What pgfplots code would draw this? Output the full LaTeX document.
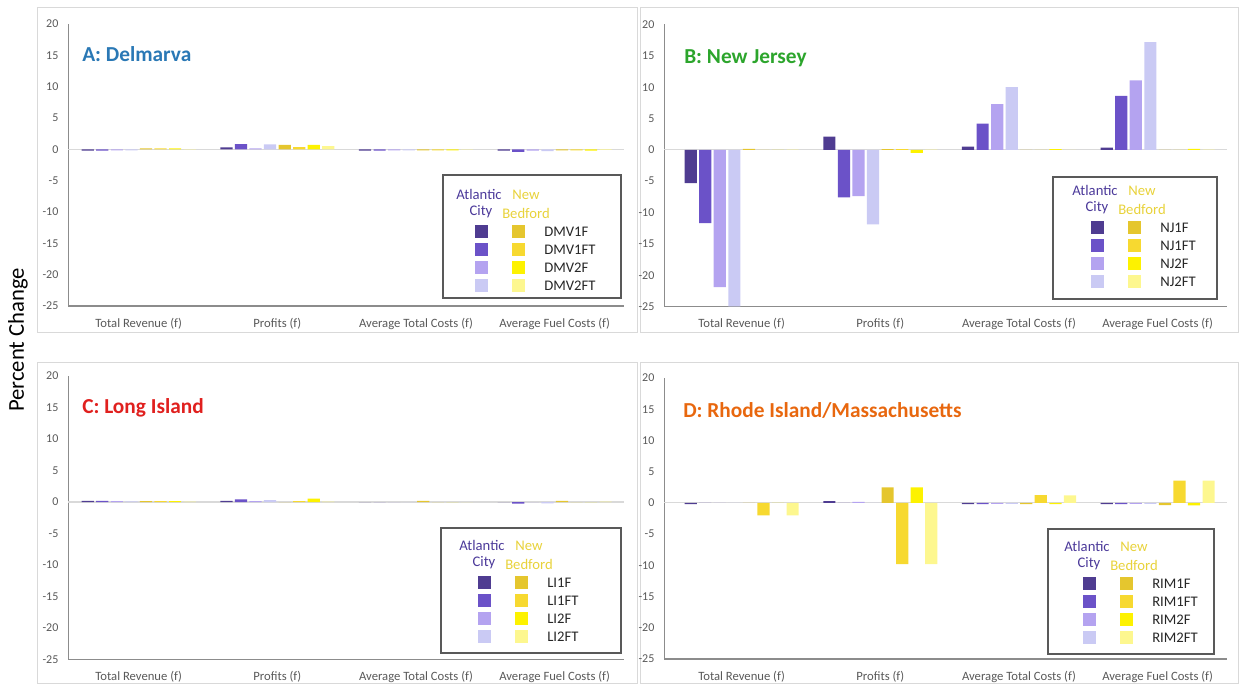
\documentclass[border=0pt]{standalone}
\usepackage{pgfplots}
\usepackage{pgfplotstable}
\pgfplotsset{compat=1.18}
\usepackage{fontspec}
\setmainfont{Carlito}

\definecolor{acA}{HTML}{4F3C91}
\definecolor{acB}{HTML}{6B52C8}
\definecolor{acC}{HTML}{B4A3F0}
\definecolor{acD}{HTML}{CACAF4}
\definecolor{nbA}{HTML}{E5C62E}
\definecolor{nbB}{HTML}{F7D930}
\definecolor{nbC}{HTML}{FDF200}
\definecolor{nbD}{HTML}{FDF78F}
\definecolor{actext}{HTML}{4C3A9A}
\definecolor{nbtext}{HTML}{E8D23A}
\definecolor{ticktext}{HTML}{595959}
\definecolor{framec}{HTML}{D9D9D9}
\definecolor{zeroc}{HTML}{D9D9D9}
\definecolor{axisc}{HTML}{8C8C8C}
\definecolor{legc}{HTML}{595959}
\definecolor{tA}{HTML}{2A78B5}
\definecolor{tB}{HTML}{2CA52C}
\definecolor{tC}{HTML}{E0201E}
\definecolor{tD}{HTML}{E8670E}

% columns: Atlantic City 1F 1FT 2F 2FT, New Bedford 1F 1FT 2F 2FT
\pgfplotstableread{
x a1 a2 a3 a4 n1 n2 n3 n4
0 -0.2 -0.2 -0.15 -0.15 0.15 0.15 0.15 0.05
1 0.3 0.85 0.15 0.8 0.7 0.35 0.7 0.5
2 -0.2 -0.2 -0.15 -0.15 -0.15 -0.15 -0.15 -0.05
3 -0.2 -0.4 -0.2 -0.3 -0.15 -0.15 -0.2 -0.1
}\dataA
\pgfplotstableread{
x a1 a2 a3 a4 n1 n2 n3 n4
0 -5.3 -11.7 -21.9 -25 0.15 0 0 0.05
1 2.1 -7.6 -7.4 -11.9 0.1 0.1 -0.5 0.05
2 0.5 4.2 7.3 10.0 0 0 0.1 0
3 0.35 8.6 11.1 17.2 0 0 0.15 0.05
}\dataB
\pgfplotstableread{
x a1 a2 a3 a4 n1 n2 n3 n4
0 0.2 0.2 0.15 0.1 0.15 0.15 0.15 0.05
1 0.2 0.4 0.15 0.3 0 0.15 0.55 0.05
2 0 0 0 0 0.2 0 0 0
3 0 -0.25 0 -0.2 0.2 0 0 0.05
}\dataC
\pgfplotstableread{
x a1 a2 a3 a4 n1 n2 n3 n4
0 -0.2 0 0 0 0 -2.0 0 -2.0
1 0.3 0 0.15 0 2.5 -9.8 2.5 -9.8
2 -0.2 -0.2 -0.15 -0.15 -0.2 1.25 -0.2 1.2
3 -0.2 -0.2 -0.15 -0.15 -0.35 3.55 -0.4 3.55
}\dataD

\pgfplotsset{
  panel/.style={
    scale only axis, anchor=south west,
    ymin=-25, ymax=20, ytick={-25,-20,...,20},
    xtick={0,1,2,3},
    xticklabels={Total Revenue (f),Profits (f),Average Total Costs (f),Average Fuel Costs (f)},
    axis x line=bottom, axis y line=left,
    x axis line style={-, draw=axisc, line width=0.9pt},
    y axis line style={-, draw=axisc, line width=0.75pt},
    major tick length=0pt, tick style={draw=none},
    y tick label style={font=\fontsize{9}{9}\selectfont, text=ticktext, inner sep=0pt, anchor=east, xshift=-7pt},
    x tick label style={font=\fontsize{9.5}{9.5}\selectfont, text=ticktext, inner sep=0pt, anchor=base, yshift=-16pt},
    /pgf/number format/assume math mode=true,
    extra y ticks={0}, extra y tick labels={},
    extra y tick style={grid=major, major grid style={draw=zeroc, line width=0.9pt}},
  },
  bs/.style={ybar, bar width=0.088, draw=none, bar shift=#1},
}

\newcommand{\bars}[1]{%
  \addplot[bs=-0.3675, fill=acA] table[x=x,y=a1]{#1};
  \addplot[bs=-0.2625, fill=acB] table[x=x,y=a2]{#1};
  \addplot[bs=-0.1575, fill=acC] table[x=x,y=a3]{#1};
  \addplot[bs=-0.0525, fill=acD] table[x=x,y=a4]{#1};
  \addplot[bs=0.0525, fill=nbA] table[x=x,y=n1]{#1};
  \addplot[bs=0.1575, fill=nbB] table[x=x,y=n2]{#1};
  \addplot[bs=0.2625, fill=nbC] table[x=x,y=n3]{#1};
  \addplot[bs=0.3675, fill=nbD] table[x=x,y=n4]{#1};
}

\newcommand{\legfont}{\fontsize{11}{11}\selectfont}
% x y w h dx dy prefix  (pixel units, y downward)
\newcommand{\leg}[7]{%
  \draw[legc, line width=1pt] (#1,#2) rectangle ++(#3,#4);
  \begin{scope}[shift={(#1+#5,#2+#6)}]
    \node[text=actext, font=\legfont] at (39,17) {Atlantic};
    \node[text=actext, font=\legfont] at (41,35) {City};
    \node[text=nbtext, font=\legfont] at (86,18) {New};
    \node[text=nbtext, font=\legfont] at (86,36) {Bedford};
    \foreach \c/\d/\r/\n in {acA/nbA/55/1F, acB/nbB/73/1FT, acC/nbC/91/2F, acD/nbD/109/2FT}{
      \fill[\c] (35,\r-6.5) rectangle ++(13,13);
      \fill[\d] (72,\r-6.5) rectangle ++(13,13);
      \node[anchor=west, inner sep=0pt, font=\legfont, text=black!85] at (104,\r) {#7\n};
    }
  \end{scope}}

\begin{document}
\begin{tikzpicture}
\begin{scope}[x=0.75pt, y=-0.75pt, yshift=513.75pt]
  \path[use as bounding box] (0,0) rectangle (1239,685);
  \draw[framec, line width=0.75pt] (37,8) rectangle (637,333);
  \draw[framec, line width=0.75pt] (640,8) rectangle (1238,333);
  \draw[framec, line width=0.75pt] (37,363) rectangle (637,684);
  \draw[framec, line width=0.75pt] (640,363) rectangle (1238,684);
\end{scope}

\begin{axis}[panel, at={(51pt,284.25pt)}, width=417pt, height=211.5pt, xmin=-0.51, xmax=3.5]
\bars{\dataA}
\end{axis}
\begin{axis}[panel, at={(498pt,283.875pt)}, width=422.25pt, height=211.5pt, xmin=-0.56, xmax=3.5]
\bars{\dataB}
\end{axis}
\begin{axis}[panel, at={(51pt,19.125pt)}, width=417pt, height=212.6pt, xmin=-0.51, xmax=3.5]
\bars{\dataC}
\end{axis}
\begin{axis}[panel, at={(498pt,19.5pt)}, width=422.25pt, height=210.75pt, xmin=-0.56, xmax=3.5]
\bars{\dataD}
\end{axis}

\begin{scope}[x=0.75pt, y=-0.75pt, yshift=513.75pt]
  \node[anchor=base west, inner sep=0pt, text=tA, font=\fontsize{16}{16}\selectfont\bfseries] at (82,61.5) {A: Delmarva};
  \node[anchor=base west, inner sep=0pt, text=tB, font=\fontsize{16}{16}\selectfont\bfseries] at (684,63.5) {B: New Jersey};
  \node[anchor=base west, inner sep=0pt, text=tC, font=\fontsize{16}{16}\selectfont\bfseries] at (82,413.5) {C: Long Island};
  \node[anchor=base west, inner sep=0pt, text=tD, font=\fontsize{16}{16}\selectfont\bfseries] at (683,417.5) {D: Rhode Island/Massachusetts};
  \node[rotate=90, font=\fontsize{17}{17}\selectfont] at (18,340) {Percent Change};
  \leg{443}{175}{178}{123}{-3}{2}{DMV}
  \leg{1053}{177}{164}{122}{3}{-4}{NJ}
  \leg{441}{528}{180}{125}{2}{0}{LI}
  \leg{1048}{529}{166}{125}{0}{0}{RIM}
\end{scope}
\end{tikzpicture}
\end{document}
